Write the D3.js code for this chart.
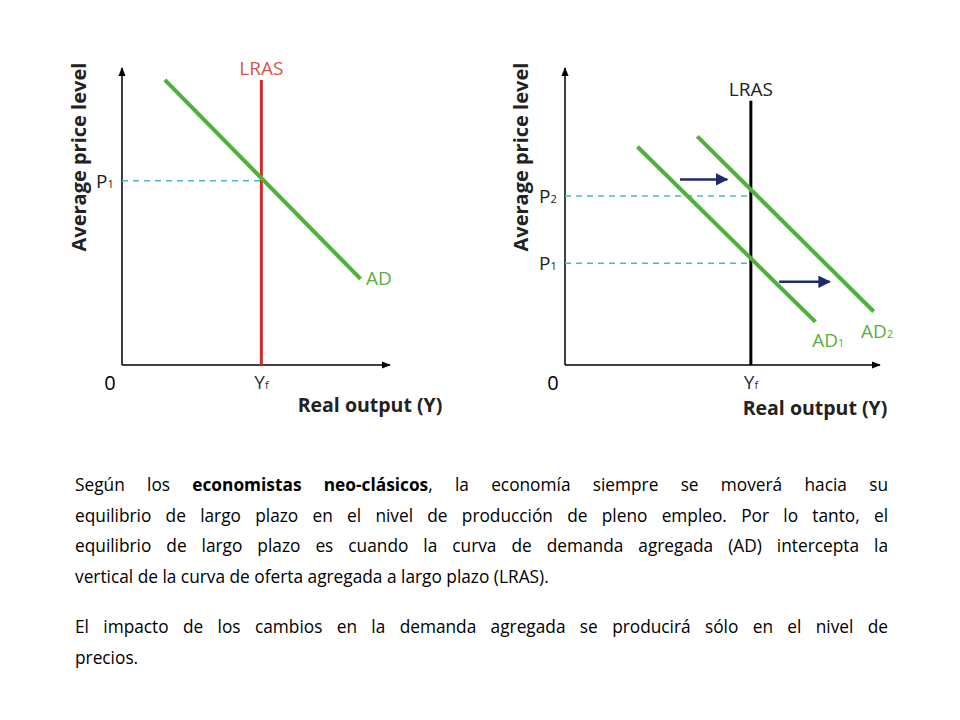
<!DOCTYPE html>
<html><head><meta charset="utf-8">
<script src="https://cdn.jsdelivr.net/npm/d3@7"></script>
<style>
body{margin:0;background:#fff;width:960px;height:720px;overflow:hidden;position:relative}
#txt{position:absolute;left:75px;top:470px;width:813px;font-family:"Open Sans",Calibri,sans-serif;font-size:17.3px;line-height:30.5px;color:#000}
#txt div{text-align:justify;text-align-last:justify;white-space:nowrap}
#txt div.last{text-align-last:left}
</style></head><body>
<svg id="c" width="960" height="460" style="position:absolute;left:0;top:0"></svg>
<div id="txt"></div>
<script>
const panels=[
 {x0:122,x1:390,lras:5.2,lrasTop:9.6,lrasColor:"#d42a2a",lrasLabelColor:"#d9534f",lrasLabelY:10.0,
  ads:[{name:"AD",sub:"",pts:[[1.6,9.6],[8.9,2.9]],lab:[9.1,2.9]}],
  levels:[{name:"P",sub:"1",y:6.2}],arrows:[],yLabelX:80,outX:370,outY:412},
 {x0:565,x1:880,lras:5.9,lrasTop:8.9,lrasColor:"#000",lrasLabelColor:"#222",lrasLabelY:9.3,
  ads:[{name:"AD",sub:"1",pts:[[2.3,7.35],[7.95,1.45]],lab:[7.85,0.8]},
       {name:"AD",sub:"2",pts:[[4.2,7.7],[9.8,1.8]],lab:[9.4,1.1]}],
  levels:[{name:"P",sub:"2",y:5.69},{name:"P",sub:"1",y:3.43}],
  arrows:[[[3.65,6.25],[5.15,6.25]],[[6.8,2.8],[8.4,2.8]]],yLabelX:522,outX:815,outY:415}
];
const paragraphs=[
 ["Según los <b>economistas neo-clásicos</b>, la economía siempre se moverá hacia su",
  "equilibrio de largo plazo en el nivel de producción de pleno empleo. Por lo tanto, el",
  "equilibrio de largo plazo es cuando la curva de demanda agregada (AD) intercepta la",
  "vertical de la curva de oferta agregada a largo plazo (LRAS)."],
 ["El impacto de los cambios en la demanda agregada se producirá sólo en el nivel de",
  "precios."]
];
const svg=d3.select("#c");
svg.append("defs").append("marker").attr("id","ah").attr("viewBox","0 0 10 10").attr("refX",9).attr("refY",5)
 .attr("markerWidth",5).attr("markerHeight",5).attr("orient","auto").append("path").attr("d","M0,0L10,5L0,10z").attr("fill","#1f2a6b");
svg.append("defs").append("marker").attr("id","ax").attr("viewBox","0 0 10 10").attr("refX",9).attr("refY",5)
 .attr("markerWidth",6).attr("markerHeight",6).attr("orient","auto").append("path").attr("d","M0,1L10,5L0,9z").attr("fill","#000");
const font="'Open Sans',sans-serif";
panels.forEach(p=>{
 const x=d3.scaleLinear().domain([0,10]).range([p.x0,p.x1]);
 const y=d3.scaleLinear().domain([0,10]).range([365,68]);
 const g=svg.append("g");
 g.append("line").attr("x1",x(0)).attr("y1",y(0)).attr("x2",x(0)).attr("y2",y(10)).attr("stroke","#000").attr("stroke-width",1.5).attr("marker-end","url(#ax)");
 g.append("line").attr("x1",x(0)).attr("y1",y(0)).attr("x2",x(10)).attr("y2",y(0)).attr("stroke","#000").attr("stroke-width",1.5).attr("marker-end","url(#ax)");
 p.levels.forEach(l=>{
  g.append("line").attr("x1",x(0)).attr("x2",x(p.lras)).attr("y1",y(l.y)).attr("y2",y(l.y)).attr("stroke","#4fb8c8").attr("stroke-width",1.5).attr("stroke-dasharray","6,5");
  const t=g.append("text").attr("x",x(0)-26).attr("y",y(l.y)+7).attr("font-family",font).attr("font-size",19).attr("fill","#222").text(l.name);
  t.append("tspan").attr("font-size",11).text(l.sub);
 });
 g.append("line").attr("x1",x(p.lras)).attr("x2",x(p.lras)).attr("y1",y(0)).attr("y2",y(p.lrasTop)).attr("stroke",p.lrasColor).attr("stroke-width",3);
 g.append("text").attr("x",x(p.lras)).attr("y",y(p.lrasLabelY)+7).attr("text-anchor","middle").attr("font-family",font).attr("font-size",19).attr("fill",p.lrasLabelColor).text("LRAS");
 p.ads.forEach(a=>{
  g.append("path").attr("d",d3.line().x(d=>x(d[0])).y(d=>y(d[1]))(a.pts)).attr("stroke","#4cb23a").attr("stroke-width",4).attr("fill","none");
  const t=g.append("text").attr("x",x(a.lab[0])).attr("y",y(a.lab[1])+6).attr("font-family",font).attr("font-size",19).attr("fill","#5aae3c").text(a.name);
  if(a.sub)t.append("tspan").attr("font-size",11).text(a.sub);
 });
 p.arrows.forEach(a=>{
  g.append("line").attr("x1",x(a[0][0])).attr("y1",y(a[0][1])).attr("x2",x(a[1][0])).attr("y2",y(a[1][1])).attr("stroke","#1f2a6b").attr("stroke-width",2.5).attr("marker-end","url(#ah)");
 });
 g.append("text").attr("x",x(0)-12).attr("y",390).attr("font-family",font).attr("font-size",20).attr("text-anchor","middle").text("0");
 const yf=g.append("text").attr("x",x(p.lras)-7).attr("y",389).attr("font-family",font).attr("font-size",19).attr("fill","#333").text("Y");
 yf.append("tspan").attr("font-size",11).text("f");
 g.append("text").attr("x",p.outX).attr("y",p.outY).attr("text-anchor","middle").attr("font-family",font).attr("font-weight","bold").attr("font-size",19.5).attr("fill","#222").text("Real output (Y)");
 g.append("text").attr("transform",`translate(${p.yLabelX+6},${y(7.0)}) rotate(-90)`).attr("text-anchor","middle").attr("font-family",font).attr("font-weight","bold").attr("font-size",20).attr("fill","#222").text("Average price level");
});
const txt=d3.select("#txt");
paragraphs.forEach((para,i)=>{
 if(i>0)txt.append("div").style("height","20px");
 para.forEach((ln,j)=>txt.append("div").attr("class",j===para.length-1?"last":null).html(ln));
});
</script></body></html>
